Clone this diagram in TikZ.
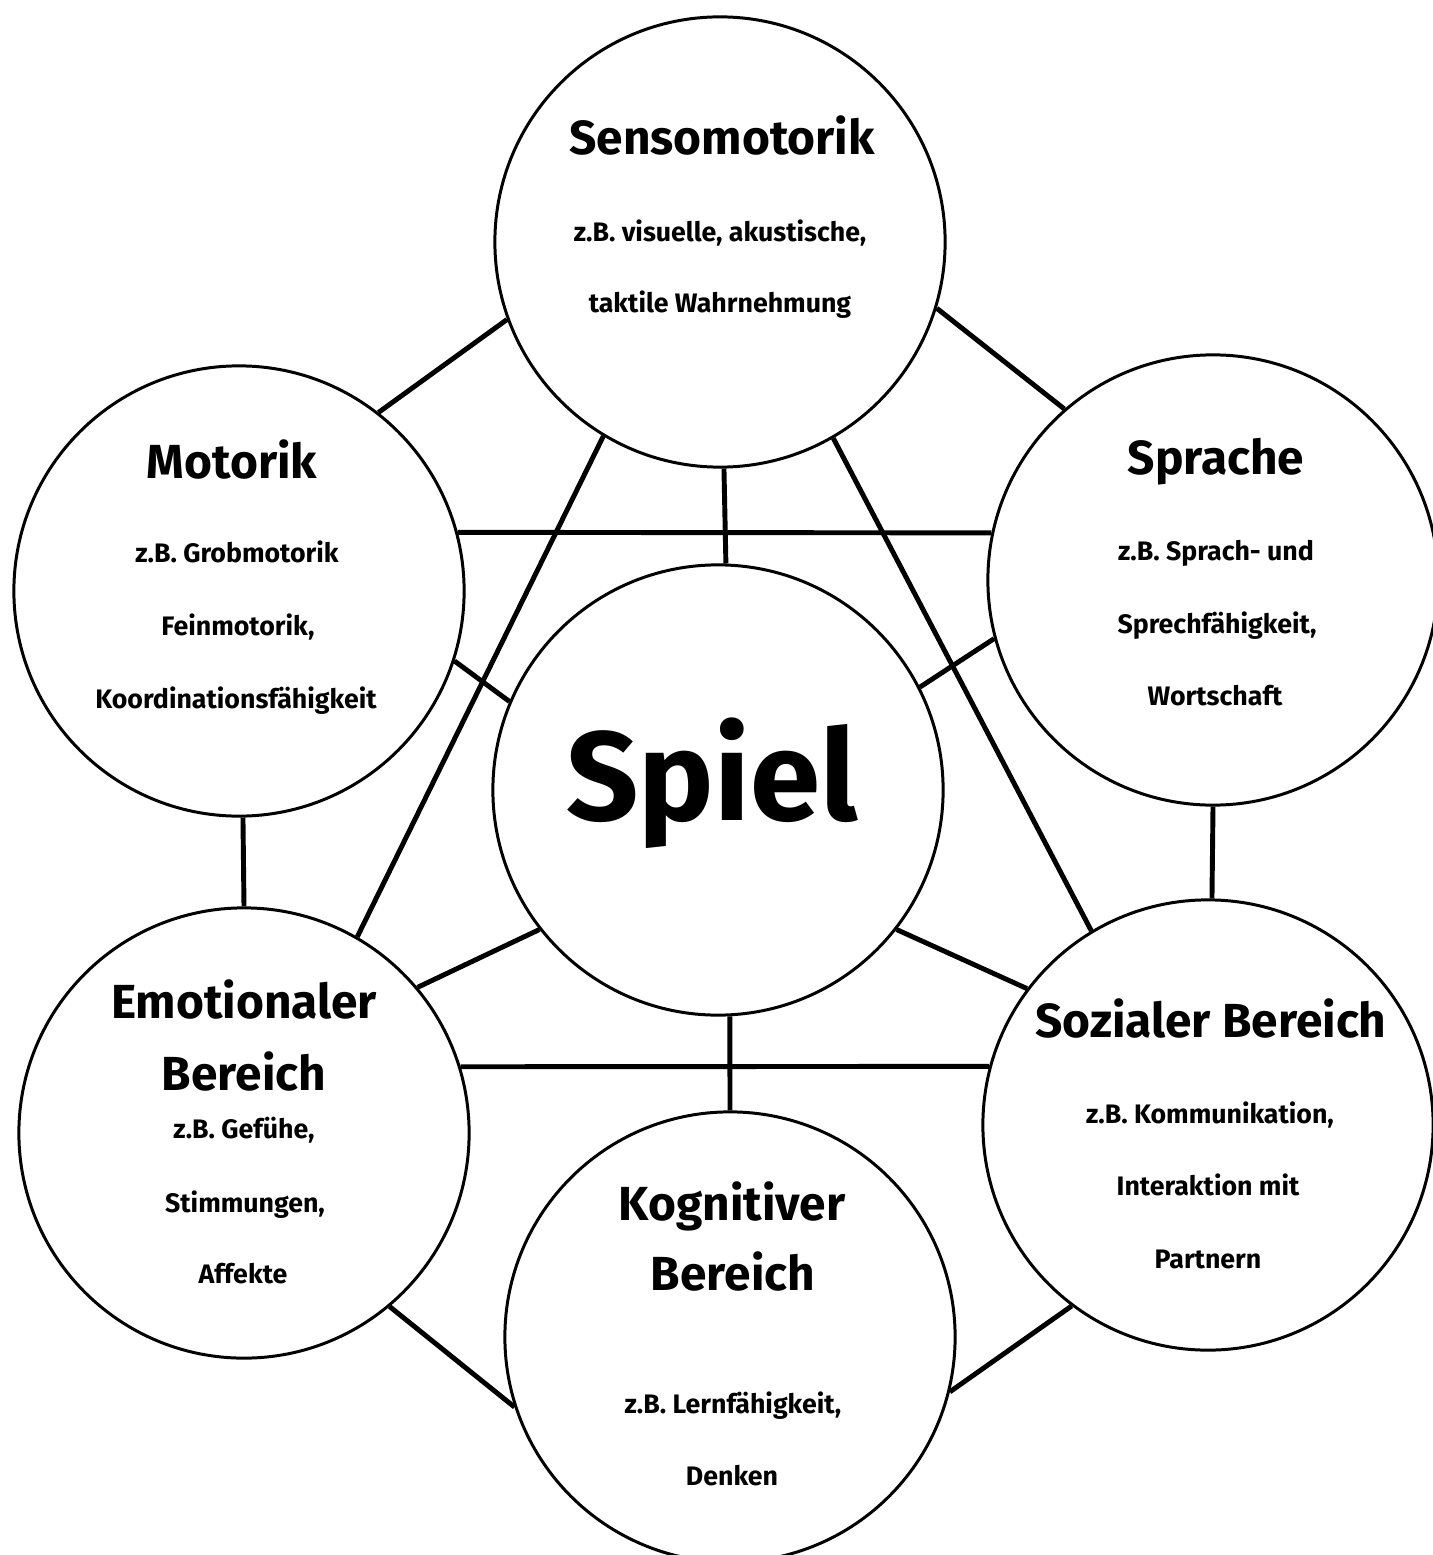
\documentclass[tikz,border=0pt]{standalone}
\usepackage{fontspec}
\setmainfont{Fira Sans}

\begin{document}
\begin{tikzpicture}[x=0.01cm, y=-0.01cm,
  bubble/.style={circle, draw=black, line width=0.85pt, minimum size=4.5cm, inner sep=0pt},
  link/.style={black, line width=1.4pt},
  head/.style={anchor=base, inner sep=0pt, font=\fontsize{13.6}{16}\selectfont\bfseries},
  note/.style={anchor=base, inner sep=0pt, font=\fontsize{7.6}{9}\selectfont\bfseries}]
\useasboundingbox (0,0) rectangle (1432,1555);
% circles
\node [bubble] (senso) at (720,242) {};
\node [bubble] (motorik) at (239,591) {};
\node [bubble] (sprache) at (1213,580) {};
\node [bubble] (spiel) at (718,790) {};
\node [bubble] (emotional) at (244,1133) {};
\node [bubble] (sozial) at (1208,1125) {};
\node [bubble] (kognitiv) at (730,1337) {};
% connectors
\draw [link] (senso.200) -- (motorik.52);
\draw [link] (senso.343) -- (sprache.131);
\draw [link] (senso.271) -- (spiel.88);
\draw [link] (senso.239) -- (emotional.60);
\draw [link] (senso.300) -- (sozial.121);
\draw [link] (motorik.15) -- (sprache.168);
\draw [link] (motorik.342) -- (spiel.157);
\draw [link] (motorik.271) -- (emotional.90);
\draw [link] (sprache.195) -- (spiel.27);
\draw [link] (sprache.270) -- (sozial.89);
\draw [link] (spiel.218) -- (emotional.40);
\draw [link] (spiel.322) -- (sozial.143);
\draw [link] (spiel.273) -- (kognitiv.90);
\draw [link] (emotional.17) -- (sozial.165);
\draw [link] (emotional.310) -- (kognitiv.198);
\draw [link] (sozial.233) -- (kognitiv.346);
% texts
\node [head] (sensoHead) at (722,155) {Sensomotorik};
\node [note] (sensoA) at (720,242) {z.B. visuelle, akustische,};
\node [note] (sensoB) at (720,313) {taktile Wahrnehmung};
\node [head] (motorikHead) at (232,478) {Motorik};
\node [note] (motorikA) at (237,562) {z.B. Grobmotorik};
\node [note] (motorikB) at (238,635) {Feinmotorik,};
\node [note] (motorikC) at (236,708) {Koordinationsfähigkeit};
\node [head] (spracheHead) at (1216,475) {Sprache};
\node [note] (spracheA) at (1216,560) {z.B. Sprach- und};
\node [note] (spracheB) at (1217,633) {Sprechfähigkeit,};
\node [note] (spracheC) at (1215,705) {Wortschaft};
\node [anchor=base, inner sep=0pt, font=\fontsize{36}{40}\selectfont\bfseries] (spielHead) at (712,820) {Spiel};
\node [head] (emotionalHead) at (244,1018) {Emotionaler};
\node [head] (emotionalHeadB) at (244,1090) {Bereich};
\node [note] (emotionalA) at (244,1138) {z.B. Gefühe,};
\node [note] (emotionalB) at (245,1212) {Stimmungen,};
\node [note] (emotionalC) at (243,1283) {Affekte};
\node [head] (sozialHead) at (1211,1037) {Sozialer Bereich};
\node [note] (sozialA) at (1210,1123) {z.B. Kommunikation,};
\node [note] (sozialB) at (1208,1195) {Interaktion mit};
\node [note] (sozialC) at (1208,1268) {Partnern};
\node [head] (kognitivHead) at (732,1220) {Kognitiver};
\node [head] (kognitivHeadB) at (733,1290) {Bereich};
\node [note] (kognitivA) at (733,1413) {z.B. Lernfähigkeit,};
\node [note] (kognitivB) at (732,1485) {Denken};
\end{tikzpicture}
\end{document}
